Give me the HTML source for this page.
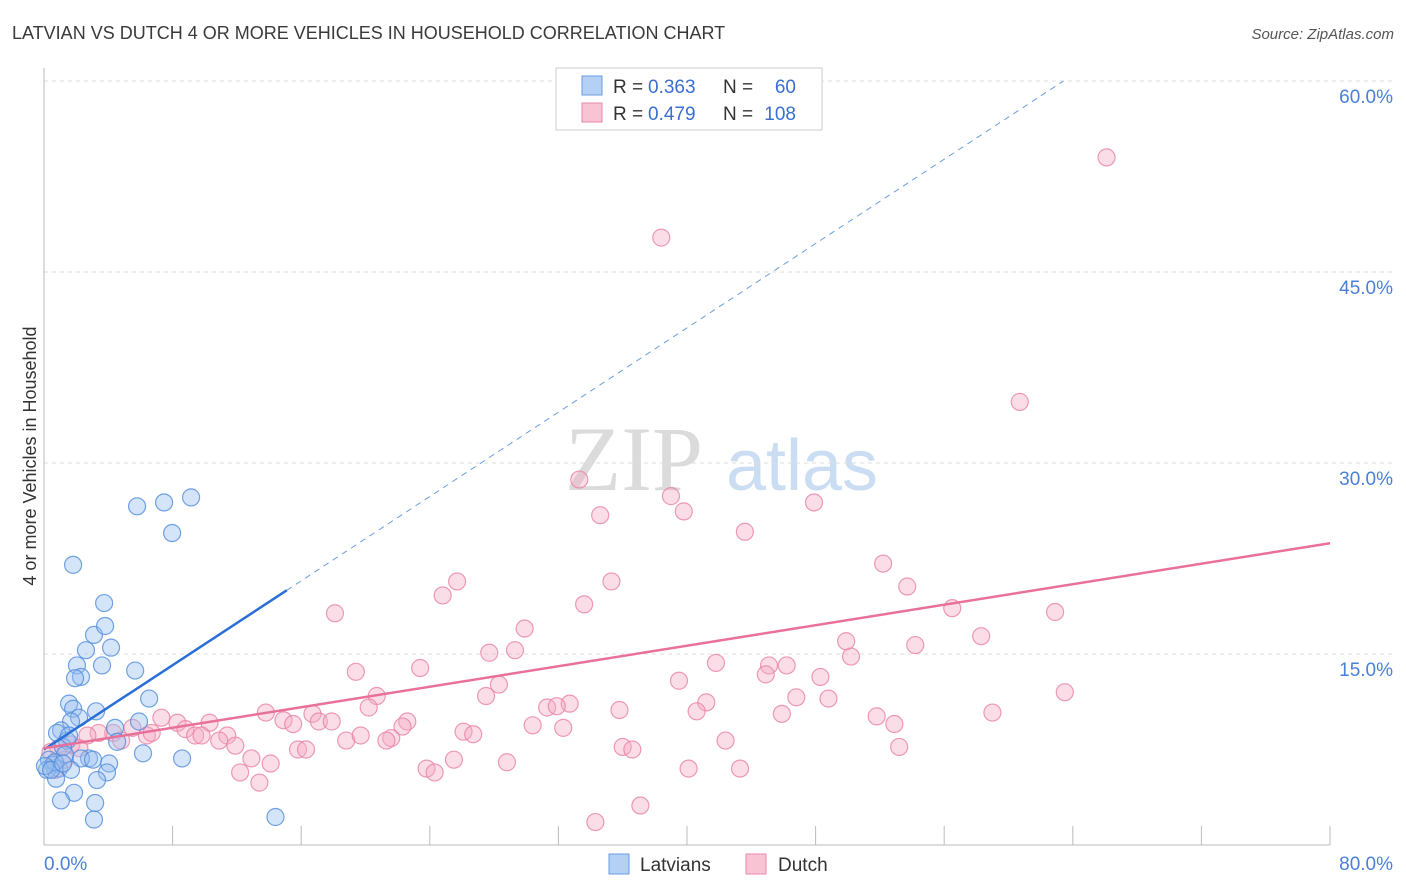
<!DOCTYPE html>
<html><head><meta charset="utf-8"><style>
body{margin:0;background:#fff;width:1406px;height:892px;overflow:hidden;font-family:"Liberation Sans",sans-serif}
svg{position:absolute;left:0;top:0}
</style></head><body>
<svg id="chart" width="1406" height="892">
<text x="12" y="39" font-size="18" fill="#3a3a3a">LATVIAN VS DUTCH 4 OR MORE VEHICLES IN HOUSEHOLD CORRELATION CHART</text>
<text x="1394" y="39" font-size="15" fill="#555" font-style="italic" text-anchor="end">Source: ZipAtlas.com</text>
<text x="36" y="456" font-size="18" fill="#333" text-anchor="middle" transform="rotate(-90 36 456)">4 or more Vehicles in Household</text>
<g><text x="634" y="490" font-size="92" font-family="Liberation Serif,serif" fill="#ccc" text-anchor="middle" opacity="0.7">ZIP</text><text x="802" y="490" font-size="72" fill="#a8c8ea" text-anchor="middle" opacity="0.6">atlas</text></g>
<g id="grid"></g><g id="axes"></g><g id="marks"></g><g id="lines"></g>
<g>
<rect x="556" y="68" width="266" height="62" fill="#fff" stroke="#ccc"/>
<rect x="582" y="76" width="20" height="19" fill="#b5d0f5" stroke="#6a9ee0"/>
<rect x="582" y="103" width="20" height="19" fill="#f8c4d3" stroke="#e88aa8"/>
<g font-size="19" fill="#333">
<text x="613" y="93">R =</text><text x="648" y="93" fill="#3a6fd0">0.363</text><text x="723" y="93">N =</text><text x="796" y="93" fill="#3a6fd0" text-anchor="end">60</text>
<text x="613" y="120">R =</text><text x="648" y="120" fill="#3a6fd0">0.479</text><text x="723" y="120">N =</text><text x="796" y="120" fill="#3a6fd0" text-anchor="end">108</text>
</g>
</g>
<g>
<rect x="609" y="854" width="20" height="20" fill="#b5d0f5" stroke="#6a9ee0"/><text x="640" y="871" font-size="19" fill="#333">Latvians</text>
<rect x="746" y="854" width="20" height="20" fill="#f8c4d3" stroke="#e88aa8"/><text x="778" y="871" font-size="19" fill="#333">Dutch</text>
</g>
</svg>
<script>
const blueX=[5.79,7.47,9.15,7.97,1.81,3.74,3.11,3.80,4.17,2.61,2.05,3.61,2.30,1.93,5.67,6.54,1.56,3.24,1.81,2.18,1.68,1.06,0.81,4.42,5.91,1.43,1.18,4.55,6.16,8.59,2.80,2.30,3.05,4.05,0.31,0.56,0.93,1.68,0.19,3.92,0.75,3.30,1.87,1.06,3.18,3.11,14.4,1.31,0.68,0.06,0.44,1.18,1.56];
const blueY=[26.6,26.9,27.3,24.5,22.0,19.0,16.5,17.2,15.5,15.3,14.1,14.1,13.2,13.1,13.7,11.5,11.1,10.5,10.7,10.0,9.7,9.0,8.8,9.2,9.7,8.2,7.7,8.1,7.2,6.8,6.8,6.8,6.7,6.4,6.7,6.3,6.0,5.9,5.9,5.7,5.2,5.1,4.1,3.5,3.3,2.0,2.2,7.1,6.5,6.2,5.9,6.4,8.6];
const pinkX=[66.1,38.4,60.7,33.3,39.0,47.9,34.6,39.8,43.6,52.2,25.7,35.3,53.7,24.8,33.6,18.1,56.5,62.9,29.9,58.3,49.9,54.2,27.7,29.3,50.2,23.4,19.4,41.8,45.1,46.2,44.9,48.3,39.5,28.3,63.5,20.7,27.5,46.8,48.8,32.7,31.3,31.9,20.2,41.2,35.8,40.6,13.8,45.9,51.8,59.0,16.7,14.9,17.1,15.5,17.9,22.6,22.3,30.4,32.3,52.9,7.3,8.3,10.3,8.8,9.4,11.4,9.8,26.1,26.7,5.5,4.3,6.4,6.7,3.4,2.7,4.8,18.8,19.7,21.6,21.3,10.9,11.9,15.8,16.3,36.0,36.6,42.4,53.2,1.7,0.9,0.4,12.9,14.1,25.5,28.8,12.2,23.8,24.3,40.1,43.3,13.4,37.1,34.3,1.3,2.2,0.7];
const pinkY=[54.0,47.7,34.8,28.7,27.4,26.9,25.9,26.2,24.6,22.1,20.7,20.7,20.3,19.6,18.9,18.2,18.6,18.3,17.0,16.4,16.0,15.7,15.1,15.3,14.8,13.9,13.6,14.3,14.1,14.1,13.4,13.2,12.9,12.6,12.0,11.7,11.7,11.6,11.5,11.1,10.8,10.9,10.8,11.2,10.6,10.5,10.4,10.3,10.1,10.4,10.3,9.8,9.7,9.5,9.7,9.7,9.3,9.4,9.2,9.5,10.0,9.6,9.6,9.1,8.6,8.6,8.6,8.9,8.7,9.2,8.8,8.6,8.8,8.8,8.6,8.2,8.2,8.6,8.4,8.2,8.2,7.8,7.5,7.5,7.7,7.5,8.2,7.7,7.9,7.6,7.3,6.8,6.4,6.7,6.5,5.7,6.0,5.7,6.0,6.0,4.9,3.1,1.8,6.7,7.6,5.9];
const yTicks=[15,30,45,60];
const yTickLabels=["15.0%","30.0%","45.0%","60.0%"];
const xTicks=[0,8,16,24,32,40,48,56,64,72,80];
const blueTrend=[7.5,20.0,15.1];
const pinkTrend=[7.6,23.7];
const NS="http://www.w3.org/2000/svg";
const X=v=>44+v/80*1286, Y=v=>845-v/15*191;
function mk(t,a,p){const e=document.createElementNS(NS,t);for(const k in a)e.setAttribute(k,a[k]);document.getElementById(p).appendChild(e);return e;}
yTicks.forEach((t,i)=>{
 const g=mk('line',{x1:44,x2:1394,y1:Y(t),y2:Y(t),stroke:'#ddd','stroke-dasharray':'4,4'},'grid');
 
 
 const l=mk('text',{x:1393,y:Y(t)+22,'font-size':19,fill:'#4a80d8','text-anchor':'end'},'axes');l.textContent=yTickLabels[i];
 
 
});
mk('line',{x1:44,x2:44,y1:68,y2:845,stroke:'#bbb'},'axes');
mk('line',{x1:44,x2:1330,y1:845,y2:845,stroke:'#bbb'},'axes');
xTicks.slice(1).forEach(t=>{const e=mk('line',{x1:X(t),x2:X(t),y1:826,y2:845,stroke:'#bbb'},'axes');
 
 });
let a=mk('text',{x:44,y:870,'font-size':19,fill:'#4a80d8'},'axes');a.textContent='0.0%';


a=mk('text',{x:1393,y:870,'font-size':19,fill:'#4a80d8','text-anchor':'end'},'axes');a.textContent='80.0%';


pinkX.forEach((x,i)=>{const c=mk('circle',{cx:X(x),cy:Y(pinkY[i]),r:8.5,fill:'rgba(245,170,195,0.4)',stroke:'rgba(232,130,165,0.8)','stroke-width':1.2},'marks');
 
 });
blueX.forEach((x,i)=>{const c=mk('circle',{cx:X(x),cy:Y(blueY[i]),r:8.5,fill:'rgba(150,190,240,0.4)',stroke:'rgba(80,140,220,0.8)','stroke-width':1.2},'marks');
 
 });
const bs=(blueTrend[1]-blueTrend[0])/blueTrend[2];
const bx2=(60-blueTrend[0])/bs;
let L=mk('line',{x1:X(blueTrend[2]),y1:Y(blueTrend[1]),x2:X(bx2),y2:Y(60),stroke:'#6a9ee0','stroke-width':1,'stroke-dasharray':'6,5'},'lines');


L=mk('line',{x1:X(0),y1:Y(blueTrend[0]),x2:X(blueTrend[2]),y2:Y(blueTrend[1]),stroke:'#2a6fd6','stroke-width':2.5},'lines');


L=mk('line',{x1:X(0),y1:Y(pinkTrend[0]),x2:X(80),y2:Y(pinkTrend[1]),stroke:'#e8709a','stroke-width':2.5},'lines');


</script>
</body></html>
